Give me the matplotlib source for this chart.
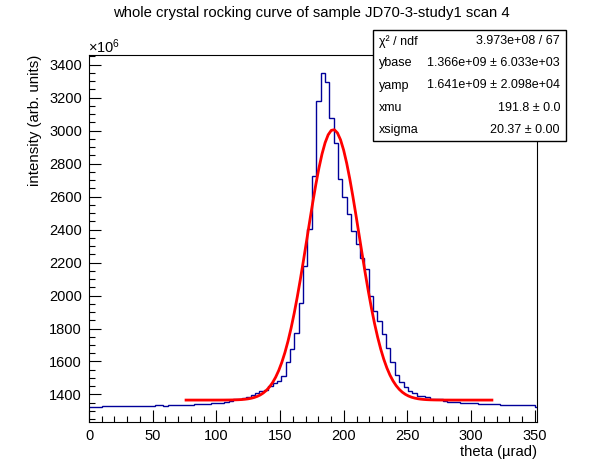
import numpy as np
import matplotlib
matplotlib.use("Agg")
import matplotlib.pyplot as plt
from matplotlib.patches import Rectangle
from matplotlib.ticker import MultipleLocator

plt.rcParams['font.family'] = ['Liberation Sans', 'DejaVu Sans']
plt.rcParams['mathtext.fontset'] = 'custom'
plt.rcParams['mathtext.rm'] = 'Liberation Sans'
plt.rcParams['mathtext.it'] = 'Liberation Sans:italic'

# histogram: 103 bins of 3.43 urad, intensity in units of 1e6
bin_width = 3.43
counts = [
    1327, 1321, 1321, 1330, 1330, 1330, 1330, 1330, 1330, 1330,
    1330, 1330, 1330, 1330, 1330, 1338, 1338, 1332, 1337, 1337,
    1337, 1337, 1337, 1337, 1342, 1342, 1342, 1342, 1348, 1348,
    1348, 1356, 1362, 1370, 1370, 1376, 1386, 1398, 1408, 1418,
    1430, 1452, 1468, 1482, 1515, 1596, 1677, 1775, 1953, 2180,
    2404, 2727, 3180, 3348, 3293, 3075, 2924, 2707, 2596, 2495,
    2390, 2313, 2227, 2162, 2000, 1909, 1845, 1768, 1683, 1596,
    1520, 1475, 1445, 1422, 1408, 1392, 1392, 1382, 1374, 1374,
    1374, 1360, 1356, 1356, 1356, 1350, 1350, 1350, 1350, 1344,
    1344, 1344, 1344, 1344, 1336, 1336, 1336, 1336, 1336, 1336,
    1336, 1336, 1326,
]

# fit results (from the stat box)
ybase = 1.366e9
yamp = 1.641e9
xmu = 191.8
xsigma = 20.37
fit_range = (76.2, 316.3)

stat_labels = ["χ² / ndf", "ybase", "yamp", "xmu", "xsigma"]
stat_values = ["3.973e+08 / 67", "1.366e+09 ± 6.033e+03",
               "1.641e+09 ± 2.098e+04", "191.8 ± 0.0", "20.37 ± 0.00"]

W, H = 596, 472
fig = plt.figure(figsize=(W / 100, H / 100), dpi=100)
ax = fig.add_axes([89 / W, 1 - 422 / H, (537 - 89) / W, (422 - 55) / H])

edges = np.arange(len(counts) + 1) * bin_width
ax.stairs(counts, edges, color='#000099', lw=1.0, baseline=None)

xf = np.linspace(fit_range[0], fit_range[1], 100)
yf = ybase + yamp * np.exp(-0.5 * ((xf - xmu) / xsigma) ** 2)
ax.plot(xf, yf / 1e6, color='red', lw=2.0)

ax.set_xlim(0, 351.7)
ax.set_ylim(1233, 3459)
ax.xaxis.set_major_locator(MultipleLocator(50))
ax.xaxis.set_minor_locator(MultipleLocator(10))
ax.yaxis.set_major_locator(MultipleLocator(200))
ax.yaxis.set_minor_locator(MultipleLocator(50))
ax.tick_params(which='both', direction='in', top=False, right=False,
               labelsize=10.5, width=0.8)
ax.tick_params(which='major', length=8.5, pad=5)
ax.tick_params(which='minor', length=4.3)
for s in ax.spines.values():
    s.set_linewidth(0.8)

fig.text(311 / W, 1 - 13 / H, "whole crystal rocking curve of sample JD70-3-study1 scan 4",
         ha='center', va='center', fontsize=10.7)
fig.text(537 / W, 1 - 452 / H, "theta (µrad)", ha='right', va='center', fontsize=10.6)
fig.text(35 / W, 1 - 55 / H, "intensity (arb. units)", ha='center', va='top',
         rotation=90, fontsize=10.8)
fig.text(88 / W, 1 - 47 / H, r"$\times$10$^{6}$", ha='left', va='center', fontsize=10.5)

# stat box
bx0, bx1, by0, by1 = 373, 566, 30, 141
fig.add_artist(Rectangle((bx0 / W, 1 - by1 / H), (bx1 - bx0) / W, (by1 - by0) / H,
                         transform=fig.transFigure, facecolor='white',
                         edgecolor='black', lw=1.0, zorder=10))
row_h = (by1 - by0) / len(stat_labels)
for i, (lab, val) in enumerate(zip(stat_labels, stat_values)):
    yc = 1 - (by0 + row_h * (i + 0.5)) / H
    fig.text((bx0 + 6) / W, yc, lab, ha='left', va='center', fontsize=9, zorder=11)
    fig.text((bx1 - 6) / W, yc, val, ha='right', va='center', fontsize=9, zorder=11)

fig.savefig("out.png", dpi=100)
